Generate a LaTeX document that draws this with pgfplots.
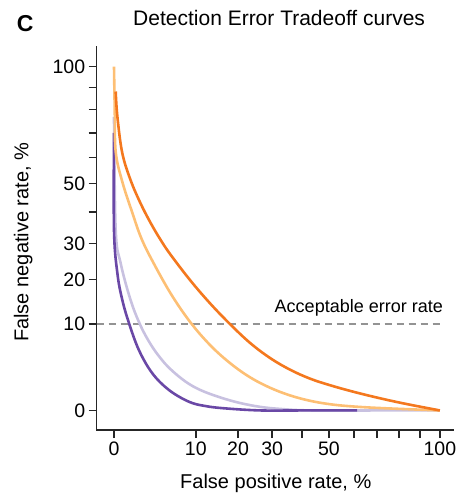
\documentclass[border=0pt]{standalone}
\usepackage{fontspec}
\setmainfont{Liberation Sans}
\usepackage{pgfplots}
\pgfplotsset{compat=1.18}
\definecolor{dorange}{HTML}{F4781E}
\definecolor{lorange}{HTML}{FDBF74}
\definecolor{dpurple}{HTML}{6A48A6}
\definecolor{lpurple}{HTML}{C8C1E0}
\begin{document}
\begin{tikzpicture}
\useasboundingbox (-96.7pt,-65pt) rectangle (361.3pt,430pt);
\begin{axis}[
  at={(0pt,0pt)}, anchor=south west,
  scale only axis, width=356.3pt, height=382.7pt,
  x coord trafo/.code={\pgfmathparse{(#1<0 ? -1 : 1)*(abs(#1)+0.00001)^0.6}},
  y coord trafo/.code={\pgfmathparse{(#1<0 ? -1 : 1)*(abs(#1)+0.00001)^0.6}},
  xmin=-0.748, xmax=106.8, ymin=-0.839, ymax=109.5,
  axis lines*=left,
  axis line style={line width=1.6pt, black!85, line cap=rect},
  tick align=outside,
  major tick length=8pt,
  tick style={line width=1.6pt, black!85},
  xtick={0,10,20,30,40,50,60,70,80,90,100},
  xticklabels={0,10,20,30,,50,,,,,100},
  ytick={0,10,20,30,40,50,60,70,80,90,100},
  yticklabels={0,10,20,30,,50,,,,,100},
  /pgf/number format/assume math mode=true,
  ticklabel style={font=\fontsize{19.5}{22}\selectfont},
  title={Detection Error Tradeoff curves},
  title style={at={(axis description cs:0.512,1.0408)}, anchor=base, inner sep=0pt, font=\fontsize{21}{25}\selectfont},
  xlabel={False positive rate, \%},
  xlabel style={at={(axis description cs:0.5027,-0.1529)}, anchor=base, inner sep=0pt, font=\fontsize{20}{24}\selectfont},
  ylabel={False negative rate, \%},
  ylabel style={at={(axis description cs:-0.192,0.4905)}, anchor=base, inner sep=0pt, font=\fontsize{20}{24}\selectfont},
  clip=false,
]
% acceptable error rate
\addplot[gray!85, line width=1.3pt, dash pattern=on 7pt off 5pt] coordinates {(-0.748,10) (100,10)};
% light purple
\addplot[lpurple, line width=2.6pt, smooth, tension=0.6] coordinates {
(0,76.8) (0.016,34.1) (0.154,24.3) (0.705,15.0) (1.54,9.68) (2.62,6.42) (3.91,4.32)
(5.41,2.91) (7.99,1.61) (10.97,0.90) (15.5,0.423) (20.65,0.165) (26.4,0.049)
(32.6,0.012) (43,0) (70,0) (100,0)};
% dark purple
\addplot[dpurple, line width=2.6pt, smooth, tension=0.6] coordinates {
(0,70) (0,34.1) (0.05,21.6) (0.22,15.1) (0.59,10.2) (1.38,5.5)
(2.82,2.46) (5.14,0.91) (8.62,0.22) (12.05,0.07) (16.7,0.02) (26.4,0) (40,0) (61.4,0)};
% light orange
\addplot[lorange, line width=2.6pt, smooth, tension=0.6] coordinates {
(0,100) (0.004,80) (0.016,62.2) (0.22,50.7) (0.83,39.7) (1.54,32.1) (2.62,25.9)
(5.41,16.6) (8.95,10.3) (13.16,6.22) (18.0,3.63) (23.4,2.01) (29.4,1.07) (35.9,0.54)
(43.0,0.257) (50.5,0.124) (58.5,0.065) (71.4,0.026) (100,0)};
% dark orange
\addplot[dorange, line width=2.6pt, smooth, tension=0.6] coordinates {
(0.016,88.2) (0.05,76.9) (0.22,61.7) (0.705,51.2) (1.54,42.9) (2.62,36.4) (3.91,31.1)
(5.41,26.7) (8.95,19.7) (13.16,14.2) (18.0,9.91) (23.4,6.6) (29.4,4.33) (35.9,2.85)
(43.0,1.88) (50.5,1.28) (58.5,0.84) (67.0,0.51) (75.9,0.27) (85.3,0.108) (100,0)};
\node[anchor=base east, inner sep=0pt, font=\fontsize{18}{20}\selectfont] at (rel axis cs:0.972,0.3065) {Acceptable error rate};
\node[anchor=base west, inner sep=0pt, font=\bfseries\fontsize{23}{25}\selectfont] at (rel axis cs:-0.2245,1.0408) {C};
\end{axis}
\end{tikzpicture}
\end{document}
